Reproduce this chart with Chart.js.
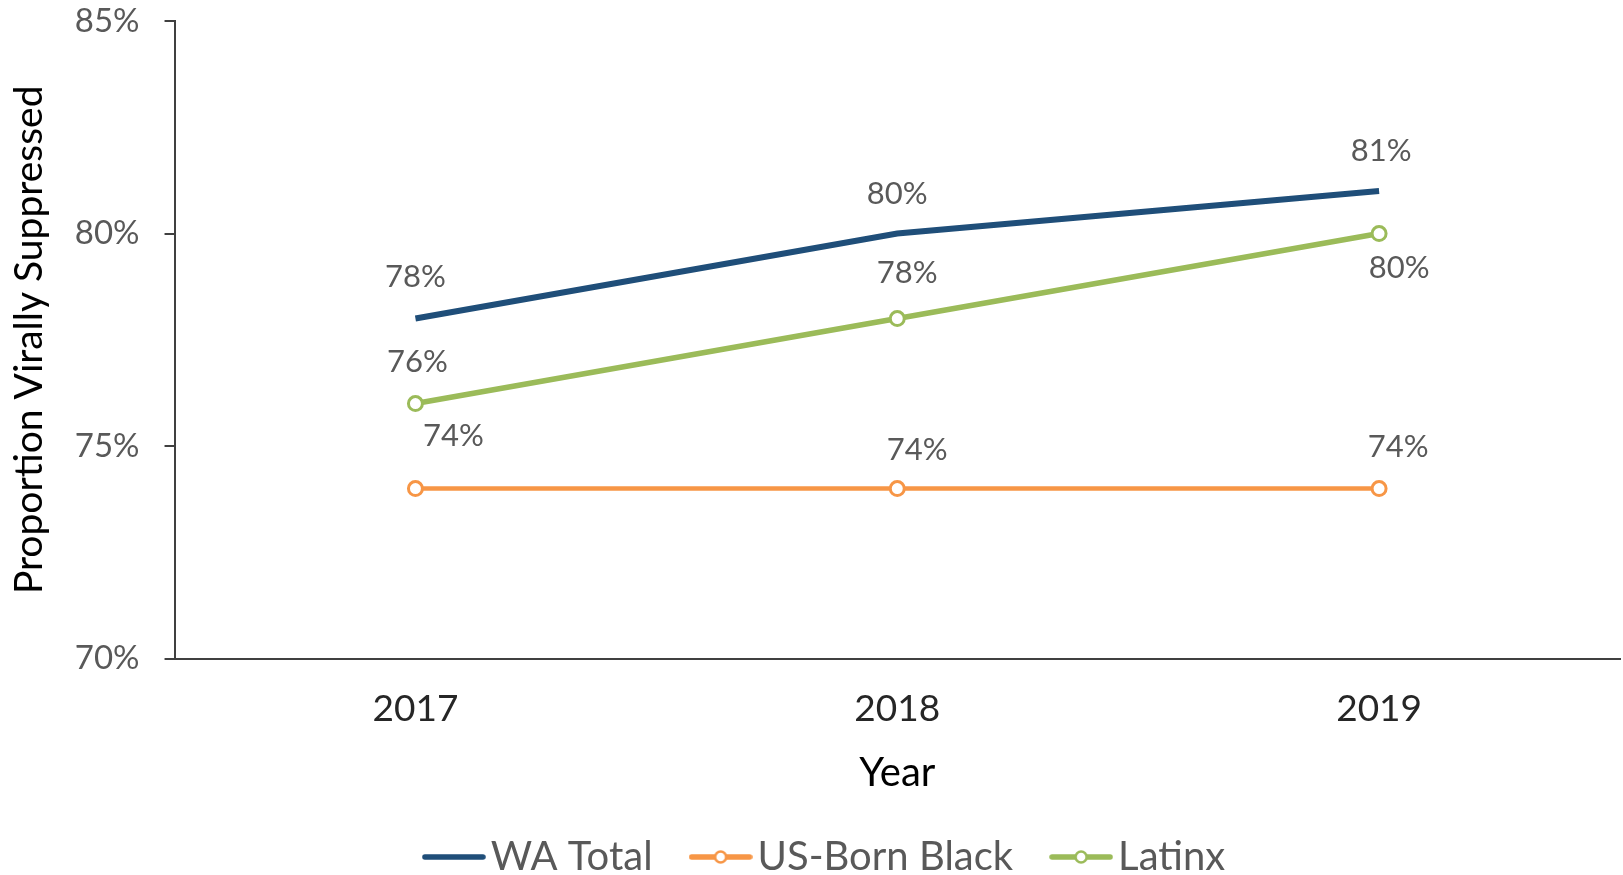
<!DOCTYPE html>
<html>
<head>
<meta charset="utf-8">
<script src="https://cdn.jsdelivr.net/npm/chart.js@4.4.1/dist/chart.umd.min.js"></script>
<style>
  html, body { margin: 0; padding: 0; background: #fff; overflow: hidden; }
  #wrap { width: 1623px; height: 875px; }
</style>
</head>
<body>
<div id="wrap"><canvas id="vsChart"></canvas></div>
<script>
// values
const years = ['2017', '2018', '2019'];
const waTotal = [78, 80, 81];
const usBornBlack = [74, 74, 74];
const latinx = [76, 78, 80];
const yTicks = [70, 75, 80, 85];

const FONT = 'Lato, "Open Sans", sans-serif';
const BLUE = '#1F4E79', ORANGE = '#F79646', GREEN = '#9BBB59';

// little line-with-marker swatch for the legend
function legendSwatch(color, marker) {
    const c = document.createElement('canvas');
    c.width = 64; c.height = 18;
    const g = c.getContext('2d');
    g.strokeStyle = color;
    g.lineWidth = 5.5;
    g.lineCap = 'round';
    g.beginPath(); g.moveTo(3, 9); g.lineTo(61, 9); g.stroke();
    if (marker) {
        g.lineWidth = 2.5;
        g.fillStyle = '#fff';
        g.beginPath(); g.arc(32, 9, 5.5, 0, Math.PI * 2); g.fill(); g.stroke();
    }
    return c;
}
const swatches = [legendSwatch(BLUE, false), legendSwatch(ORANGE, true), legendSwatch(GREEN, true)];

// draws the % label next to each point, offsets per dataset
const pointLabels = {
    id: 'pointLabels',
    afterDatasetsDraw(chart, args, opts) {
        const ctx = chart.ctx;
        ctx.save();
        ctx.font = opts.size + 'px ' + FONT;
        ctx.fillStyle = opts.color;
        ctx.textAlign = 'center';
        ctx.textBaseline = 'middle';
        chart.data.datasets.forEach((ds, i) => {
            const meta = chart.getDatasetMeta(i);
            meta.data.forEach((pt, j) => {
                const off = opts.offsets[i][j];
                ctx.fillText(ds.data[j] + '%', pt.x + off[0], pt.y + off[1]);
            });
        });
        ctx.restore();
    }
};

// nudge the legend a bit right, like the original
const legendShift = {
    id: 'legendShift',
    afterLayout(chart, args, opts) {
        chart.legend.left += opts.dx;
        chart.legend.right += opts.dx;
    }
};

new Chart(document.getElementById('vsChart'), {
    type: 'line',
    data: {
        labels: years,
        datasets: [
            {
                label: 'WA Total',
                data: waTotal,
                borderColor: BLUE,
                borderWidth: 6,
                pointRadius: 0
            },
            {
                label: 'US-Born Black',
                data: usBornBlack,
                borderColor: ORANGE,
                borderWidth: 4.5,
                pointRadius: 7,
                pointBorderWidth: 3,
                pointBackgroundColor: '#fff',
                pointBorderColor: ORANGE
            },
            {
                label: 'Latinx',
                data: latinx,
                borderColor: GREEN,
                borderWidth: 5.5,
                pointRadius: 7,
                pointBorderWidth: 3,
                pointBackgroundColor: '#fff',
                pointBorderColor: GREEN
            }
        ]
    },
    options: {
        responsive: true,
        maintainAspectRatio: false,
        animation: false,
        layout: { autoPadding: false, padding: { left: 2, right: 3, top: 21, bottom: -12 } },
        scales: {
            x: {
                offset: true,
                afterFit: axis => { axis.paddingLeft = 0; axis.paddingRight = 0; },
                grid: { display: false },
                border: { display: true, color: '#404040', width: 2 },
                ticks: { font: { family: FONT, size: 37 }, color: '#262626', padding: 20 },
                title: { display: true, text: 'Year', font: { family: FONT, size: 40, lineHeight: 1 }, color: '#000', padding: { top: 2, bottom: -7 } }
            },
            y: {
                min: 70,
                max: 85,
                afterBuildTicks: axis => { axis.ticks = yTicks.map(v => ({ value: v })); },
                afterFit: axis => { axis.paddingTop = 0; axis.paddingBottom = 0; },
                grid: { display: true, drawOnChartArea: false, drawTicks: true, tickLength: 10, color: '#404040', lineWidth: 2 },
                border: { display: true, color: '#404040', width: 2 },
                ticks: { font: { family: FONT, size: 33 }, color: '#595959', padding: 25, callback: v => v + '%' },
                title: { display: true, text: 'Proportion Virally Suppressed', font: { family: FONT, size: 39 }, color: '#000', padding: { bottom: -3 } }
            }
        },
        plugins: {
            legend: {
                position: 'bottom',
                labels: {
                    usePointStyle: true,
                    pointStyleWidth: 34,
                    font: { family: FONT, size: 40 },
                    color: '#595959',
                    padding: 51,
                    generateLabels: chart => Chart.defaults.plugins.legend.labels.generateLabels(chart)
                        .map((item, i) => Object.assign(item, { pointStyle: swatches[i] }))
                }
            },
            tooltip: { enabled: false },
            legendShift: { dx: 20 },
            pointLabels: {
                size: 31,
                color: '#595959',
                offsets: [
                    [[0, -42], [0, -40], [2, -40]],
                    [[38, -53], [20, -39], [19, -42]],
                    [[2, -42], [10, -46], [20, 34]]
                ]
            }
        }
    },
    plugins: [pointLabels, legendShift]
});
</script>
</body>
</html>
